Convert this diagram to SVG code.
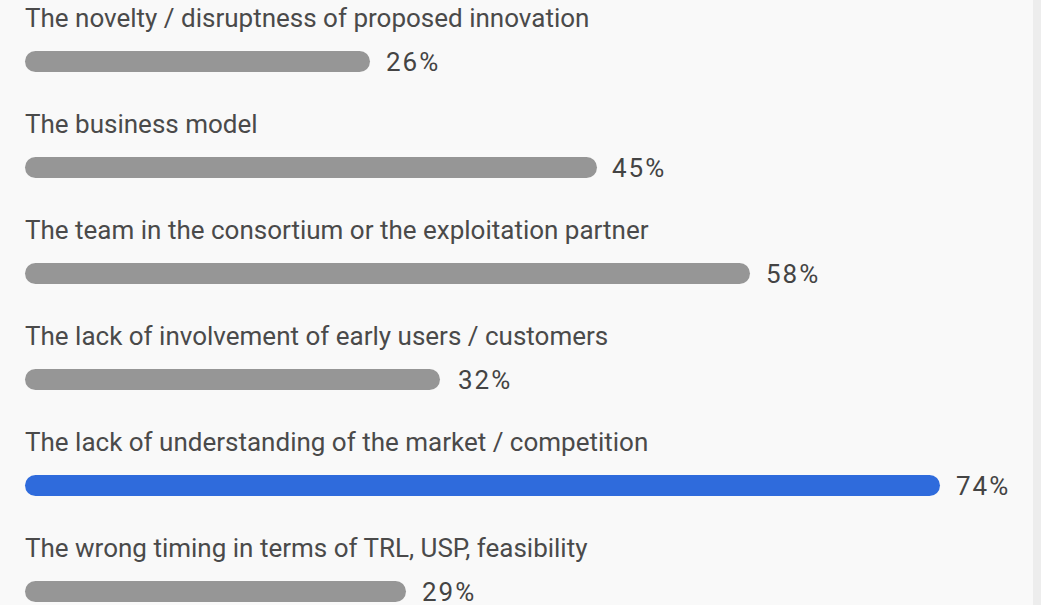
<svg xmlns="http://www.w3.org/2000/svg" width="1041" height="605" viewBox="0 0 1041 605">
<style>
.lbl{font-family:Roboto,"Liberation Sans",sans-serif;font-size:26px;fill:#4a4a4a}
.pct{font-family:Roboto,"Liberation Sans",sans-serif;font-size:26px;fill:#444;letter-spacing:2px}
.bar{fill:#969696}
.hl{fill:#2f6bdc}
</style>
<rect x="0" y="0" width="1041" height="605" fill="#f9f9f9"/>
<rect x="1033" y="0" width="8" height="605" fill="#ededed"/>
<g id="row1">
<text class="lbl" x="25" y="27">The novelty / disruptness of proposed innovation</text>
<rect class="bar" x="25" y="51" width="345" height="21" rx="10.5"/>
<text class="pct" x="386" y="71">26%</text>
</g>
<g id="row2">
<text class="lbl" x="25" y="133">The business model</text>
<rect class="bar" x="25" y="157" width="572" height="21" rx="10.5"/>
<text class="pct" x="612" y="177">45%</text>
</g>
<g id="row3">
<text class="lbl" x="25" y="239">The team in the consortium or the exploitation partner</text>
<rect class="bar" x="25" y="263" width="725" height="21" rx="10.5"/>
<text class="pct" x="766" y="283">58%</text>
</g>
<g id="row4">
<text class="lbl" x="25" y="345">The lack of involvement of early users / customers</text>
<rect class="bar" x="25" y="369" width="415" height="21" rx="10.5"/>
<text class="pct" x="458" y="389">32%</text>
</g>
<g id="row5">
<text class="lbl" x="25" y="451">The lack of understanding of the market / competition</text>
<rect class="hl" x="25" y="475" width="915" height="21" rx="10.5"/>
<text class="pct" x="956" y="495">74%</text>
</g>
<g id="row6">
<text class="lbl" x="25" y="557">The wrong timing in terms of TRL, USP, feasibility</text>
<rect class="bar" x="25" y="581" width="381" height="21" rx="10.5"/>
<text class="pct" x="422" y="601">29%</text>
</g>
<g id="connectors"></g>
</svg>
